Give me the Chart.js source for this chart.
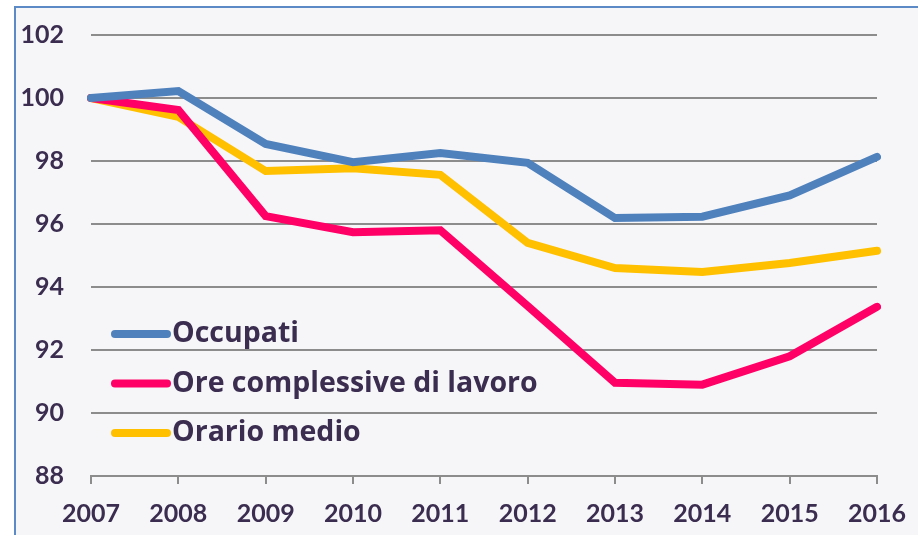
<!DOCTYPE html>
<html>
<head>
<meta charset="utf-8">
<script src="https://cdn.jsdelivr.net/npm/chart.js@4.4.0/dist/chart.umd.min.js"></script>
<style>
    body { margin: 0; background: #ffffff; overflow: hidden; }
    .frame {
        position: absolute; left: 14px; top: 6px; width: 1000px; height: 1000px;
        border: 2px solid #5b8ac6; background: #f6f6f9;
    }
    canvas { position: absolute; left: 0; top: 0; }
</style>
</head>
<body>
<div class="frame"></div>
<canvas id="chart" width="918" height="535"></canvas>
<script>
// Data
const years = ['2007', '2008', '2009', '2010', '2011', '2012', '2013', '2014', '2015', '2016'];
const occupati = [100, 100.22, 98.54, 97.96, 98.25, 97.94, 96.19, 96.23, 96.91, 98.13];
const oreComplessive = [100, 99.62, 96.25, 95.74, 95.8, 93.4, 90.96, 90.9, 91.8, 93.37];
const orarioMedio = [100, 99.4, 97.68, 97.77, 97.56, 95.4, 94.6, 94.48, 94.76, 95.15];
const yTicks = [88, 90, 92, 94, 96, 98, 100, 102];

const textColor = '#3b2d4f';
const font = "Lato, 'Open Sans', sans-serif";

// legend drawn inside the plot area
const insideLegend = {
    id: 'insideLegend',
    afterDraw(chart) {
        let ctx = chart.ctx;
        ctx.save();
        ctx.font = "bold 28.5px 'Open Sans', sans-serif";
        ctx.textBaseline = 'middle';
        ctx.lineCap = 'round';
        chart.data.datasets.forEach((ds, i) => {
            let y = 334 + i * 49.5;
            ctx.strokeStyle = ds.borderColor;
            ctx.lineWidth = 8;
            ctx.beginPath();
            ctx.moveTo(115, y);
            ctx.lineTo(167, y);
            ctx.stroke();
            ctx.fillStyle = textColor;
            ctx.fillText(ds.label, 172, y);
        });
        ctx.restore();
    }
};

new Chart(document.getElementById('chart'), {
    type: 'line',
    data: {
        labels: years,
        datasets: [
            { label: 'Occupati', data: occupati, borderColor: '#4f81bd' },
            { label: 'Ore complessive di lavoro', data: oreComplessive, borderColor: '#ff0066' },
            { label: 'Orario medio', data: orarioMedio, borderColor: '#ffc000' }
        ].map(d => Object.assign(d, {
            borderWidth: 8,
            pointRadius: 0,
            tension: 0,
            fill: false,
            borderCapStyle: 'round',
            borderJoinStyle: 'miter'
        }))
    },
    options: {
        responsive: false,
        animation: false,
        layout: { padding: { left: 0, right: 41, top: 35, bottom: 0 } },
        plugins: {
            legend: { display: false },
            tooltip: { enabled: false }
        },
        scales: {
            x: {
                offset: false,
                afterFit: s => {
                    s.height = 59;
                    s.paddingLeft = 0;
                    s.paddingRight = 0;
                },
                grid: {
                    drawOnChartArea: false,
                    drawTicks: true,
                    tickLength: 8,
                    color: '#8c8c8c',
                    lineWidth: 2
                },
                border: { display: true, color: '#8c8c8c', width: 2 },
                ticks: {
                    color: textColor,
                    font: { family: font, size: 25, weight: 'bold' },
                    padding: 15,
                    maxRotation: 0,
                    autoSkip: false
                }
            },
            y: {
                min: 88,
                max: 102,
                afterFit: s => {
                    s.width = 91;
                    s.paddingTop = 0;
                    s.paddingBottom = 0;
                },
                afterBuildTicks: s => { s.ticks = yTicks.map(v => ({ value: v })); },
                grid: {
                    drawTicks: false,
                    color: '#8c8c8c',
                    lineWidth: 2
                },
                border: { display: false },
                ticks: {
                    color: textColor,
                    font: { family: font, size: 25, weight: 'bold' },
                    padding: 27
                }
            }
        }
    },
    plugins: [insideLegend]
});
</script>
</body>
</html>
